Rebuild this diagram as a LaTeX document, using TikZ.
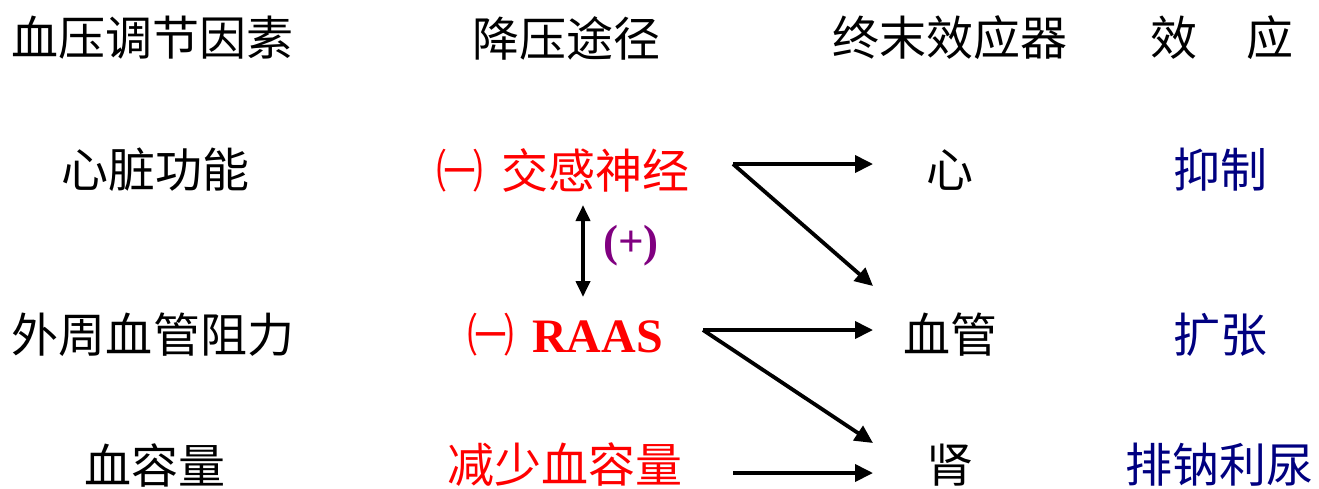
\documentclass[tikz,border=0pt]{standalone}
\usepackage{fontspec}
\setmainfont{Liberation Serif}
\newfontfamily\cjk{Noto Sans CJK SC}
\usetikzlibrary{arrows.meta,calc}
\definecolor{redtxt}{RGB}{255,0,0}
\definecolor{navytxt}{RGB}{0,0,128}
\definecolor{purptxt}{RGB}{128,0,128}
\begin{document}
\begin{tikzpicture}[x=1pt,y=-1pt,
  lbl/.style={inner sep=0pt,font=\fontsize{47}{50}\selectfont\cjk},
  redlbl/.style={lbl,text=redtxt},
  efflbl/.style={lbl,text=navytxt},
  arr/.style={line width=3.8pt,-{Triangle[length=18pt,width=17pt]}},
  darr/.style={line width=3.8pt,{Triangle[length=16pt,width=14pt]}-{Triangle[length=16pt,width=14pt]}}]
\useasboundingbox (0,0) rectangle (1319,488);
% headers
\node[lbl] (h1) at (152,38) {血压调节因素};
\node[lbl] (h2) at (566,38) {降压途径};
\node[lbl] (h3) at (950,38) {终末效应器};
\node[lbl] (h4) at (1222,38) {效\hspace{50pt}应};
% left column
\node[lbl] (f1) at (155,170) {心脏功能};
\node[lbl] (f2) at (153,335) {外周血管阻力};
\node[lbl] (f3) at (155,465) {血容量};
% pathways
\node[redlbl] (p1) at (563,170) {㈠\hspace{18pt}交感神经};
\node[redlbl] (p2) at (565,335) {㈠\hspace{18pt}{\fontsize{48}{50}\selectfont\rmfamily\bfseries RAAS}};
\node[redlbl] (p3) at (565,465) {减少血容量};
% effectors
\node[lbl] (e1) at (950,170) {心};
\node[lbl] (e2) at (950,335) {血管};
\node[lbl] (e3) at (950,465) {肾};
% effects
\node[efflbl] (r1) at (1220,170) {抑制};
\node[efflbl] (r2) at (1220,335) {扩张};
\node[efflbl] (r3) at (1219,465) {排钠利尿};
% plus label
\node[inner sep=0pt,text=purptxt,font=\fontsize{45}{48}\selectfont\bfseries] (plus) at (631,246) {(+)};
% connector points
\coordinate (s1) at (733,164);
\coordinate (s2) at (703,330);
\coordinate (s3) at (733,473);
\coordinate (t1) at (873,164);
\coordinate (t1d) at (873,286);
\coordinate (t2) at (873,330);
\coordinate (t2d) at (873,443);
\coordinate (t3) at (873,473);
\coordinate (vtop) at (583,205);
\coordinate (vbot) at (583,297);
\draw[arr] (s1) -- (t1);
\draw[arr] (s1) -- (t1d);
\draw[arr] (s2) -- (t2);
\draw[arr] (s2) -- (t2d);
\draw[arr] (s3) -- (t3);
\draw[darr] (vtop) -- (vbot);
\end{tikzpicture}
\end{document}
